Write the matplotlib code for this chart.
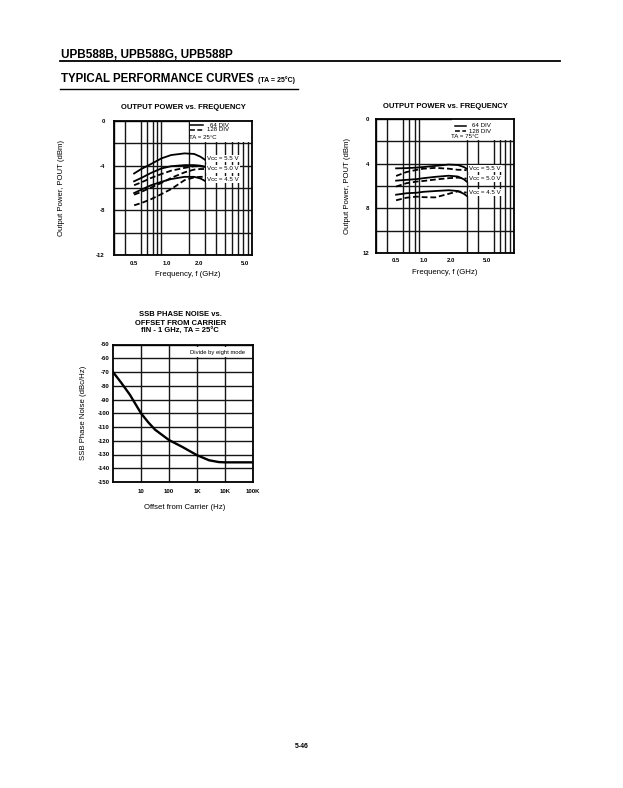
import matplotlib
matplotlib.use('Agg')
import matplotlib.pyplot as plt
from matplotlib.patches import Rectangle
from matplotlib.ticker import FixedLocator, NullFormatter, FixedFormatter

plt.rcParams['font.family'] = ['Liberation Sans', 'DejaVu Sans']
plt.rcParams['axes.unicode_minus'] = False

# ---------------- data ----------------
# Chart 1: output power vs frequency, TA = 25 C (dBm)
freq_a = [0.5, 0.6, 0.77, 1.0, 1.28, 1.8, 2.3, 2.7, 3.0]
a_64_55 = [-4.7, -4.3, -3.85, -3.35, -3.05, -2.9, -2.95, -3.2, -3.45]
a_64_50 = [-5.4, -5.1, -4.65, -4.25, -4.05, -3.95, -3.95, -4.0, -4.1]
a_64_45 = [-6.45, -6.15, -5.75, -5.45, -5.2, -5.0, -5.0, -5.15, -5.35]
a_128_55 = [-5.75, -5.5, -5.1, -4.75, -4.45, -4.2, -4.05, -4.05, -4.1]
a_128_50 = [-6.6, -6.35, -5.95, -5.55, -5.1, -4.6, -4.35, -4.3, -4.3]
a_128_45 = [-7.55, -7.35, -7.0, -6.55, -6.1, -5.3, -5.05, -5.0, -5.0]

# Chart 2: output power vs frequency, TA = 75 C
freq_b = [0.5, 0.65, 0.85, 1.0, 1.35, 1.9, 2.4, 2.8, 3.0]
b_64_55 = [4.42, 4.4, 4.35, 4.3, 4.2, 4.08, 4.12, 4.3, 4.45]
b_64_50 = [5.52, 5.45, 5.38, 5.3, 5.18, 5.08, 5.15, 5.4, 5.6]
b_64_45 = [6.78, 6.65, 6.6, 6.52, 6.45, 6.38, 6.45, 6.7, 6.88]
b_128_55 = [5.1, 4.75, 4.55, 4.45, 4.38, 4.45, 4.55, 4.55, 4.6]
b_128_50 = [6.05, 5.75, 5.6, 5.55, 5.42, 5.3, 5.25, 5.3, 5.35]
b_128_45 = [7.28, 7.05, 6.95, 7.0, 7.02, 6.7, 6.48, 6.55, 6.6]

# Chart 3: SSB phase noise vs offset
offset_hz = [1, 2, 4, 10, 18, 32, 100, 300, 1000, 2700, 6000, 10000, 100000]
noise_dbc = [-70, -78, -86.5, -100, -106.5, -112, -119.5, -124.5, -130.5, -134.2, -135.5, -135.7, -135.7]

freq_grid = [0.3, 0.4, 0.5, 0.6, 0.7, 0.8, 0.9, 1, 2, 3, 4, 5, 6, 7, 8, 9, 10]
xt_a_pos = [0.5, 1.15, 2.6, 8.4]
xt_b_pos = [0.5, 1.0, 2.0, 5.0]
xt_labels = ['0.5', '1.0', '2.0', '5.0']
yt_a = [0, -4, -8, -12]
yt_b = [0, 4, 8, 12]
off_ticks = [10, 100, 1000, 10000, 100000]
off_labels = ['10', '100', '1K', '10K', '100K']
noise_ticks = [-50, -60, -70, -80, -90, -100, -110, -120, -130, -140, -150]

# ---------------- figure ----------------
W, H = 623, 788
fig = plt.figure(figsize=(W / 100, H / 100), dpi=100)
fig.patch.set_facecolor('white')


def axes_px(l, t, r, b):
    return fig.add_axes([l / W, 1 - b / H, (r - l) / W, (b - t) / H])


def fig_text(x, y, s, **kw):
    fig.text(x / W, 1 - y / H, s, **kw)


# header
fig_text(61, 57.5, 'UPB588B, UPB588G, UPB588P', fontsize=8.5, fontweight='bold', va='baseline')
fig.add_artist(plt.Line2D([60 / W, 560 / W], [1 - 61 / H, 1 - 61 / H], color='black', lw=1.3))
fig_text(61, 82.5, 'TYPICAL PERFORMANCE CURVES', fontsize=8.3, fontweight='bold', va='baseline')
fig_text(258, 82.5, '(TA = 25°C)', fontsize=5, fontweight='bold', va='baseline')
fig.add_artist(plt.Line2D([60 / W, 298 / W], [1 - 89 / H, 1 - 89 / H], color='black', lw=1.0))
fig_text(302, 746, '5-46', fontsize=5, fontweight='bold', ha='center', va='center')

GRID_KW = dict(color='#151515', lw=1.0)
CURVE_LW = 1.3
DASH = (0, (3.2, 1.6))
TICK_FS = 4.3
LABEL_FS = 5.6
TITLE_FS = 5.5


def style_power_axes(ax, ylim, ymaj, yminor, xt_pos):
    ax.set_xscale('log')
    ax.set_xlim(0.3, 10)
    ax.set_ylim(*ylim)
    ax.xaxis.set_major_locator(FixedLocator(xt_pos))
    ax.xaxis.set_major_formatter(FixedFormatter(xt_labels))
    ax.xaxis.set_minor_locator(FixedLocator(freq_grid))
    ax.xaxis.set_minor_formatter(NullFormatter())
    ax.yaxis.set_major_locator(FixedLocator(ymaj))
    ax.yaxis.set_minor_locator(FixedLocator(yminor))
    ax.grid(True, which='minor', axis='x', **GRID_KW)
    ax.grid(True, which='both', axis='y', **GRID_KW)
    ax.tick_params(which='both', length=0, labelsize=TICK_FS)
    for lab in ax.get_xticklabels() + ax.get_yticklabels():
        lab.set_fontweight('bold')
    for s in ax.spines.values():
        s.set_linewidth(1.3)


def legend_block(ax, x0, x1, xt, y1, y2, y3, xta, ta_text):
    ax.plot([x0, x1], [y1, y1], transform=ax.transAxes, color='black', lw=1.1, zorder=4)
    ax.plot([x0, x1], [y2, y2], transform=ax.transAxes, color='black', lw=1.1, ls=DASH, zorder=4)
    ax.text(xt, y1, '64 DIV', transform=ax.transAxes, fontsize=4.4, ha='right', va='center', zorder=4)
    ax.text(xt, y2, '128 DIV', transform=ax.transAxes, fontsize=4.4, ha='right', va='center', zorder=4)
    ax.text(xta, y3, ta_text, transform=ax.transAxes, fontsize=4.4, ha='center', va='center', zorder=4)


def vcc_labels(ax, x, ys):
    for y, t in zip(ys, ['Vcc = 5.5 V', 'Vcc = 5.0 V', 'Vcc = 4.5 V']):
        ax.text(x, y, t, transform=ax.transAxes, fontsize=4.4, ha='center', va='center', zorder=5,
                bbox=dict(facecolor='white', edgecolor='none', pad=0.8))


# ---- chart 1 ----
ax1 = axes_px(114, 121, 252, 255)
style_power_axes(ax1, (-12, 0), yt_a, [-2, -6, -10], xt_a_pos)
for ys, ls in [(a_64_55, '-'), (a_64_50, '-'), (a_64_45, '-'),
               (a_128_55, DASH), (a_128_50, DASH), (a_128_45, DASH)]:
    ax1.plot(freq_a, ys, color='black', lw=CURVE_LW, ls=ls, zorder=3)
ax1.add_patch(Rectangle((2.08, -1.92), 10 - 2.08, 1.92, facecolor='white', edgecolor='none', zorder=2))
legend_block(ax1, 0.55, 0.645, 0.835, 0.97, 0.933, 0.88, 0.64, 'TA = 25°C')
vcc_labels(ax1, 0.79, [0.72, 0.642, 0.563])
ax1.tick_params(axis='y', pad=6.5)
ax1.tick_params(axis='x', pad=4.3)
ax1.set_title('OUTPUT POWER vs. FREQUENCY', fontsize=TITLE_FS, fontweight='bold', y=1.104, pad=0, va='center')
ax1.set_xlabel('Frequency, f (GHz)', fontsize=LABEL_FS, va='center')
ax1.xaxis.set_label_coords(0.536, -0.142)
ax1.set_ylabel('Output Power, POUT (dBm)', fontsize=LABEL_FS, va='center')
ax1.yaxis.set_label_coords(-0.377, 0.5)

# ---- chart 2 ----
ax2 = axes_px(376, 119, 514, 253)
style_power_axes(ax2, (12, 0), yt_b, [2, 6, 10], xt_b_pos)
for ys, ls in [(b_64_55, '-'), (b_64_50, '-'), (b_64_45, '-'),
               (b_128_55, DASH), (b_128_50, DASH), (b_128_45, DASH)]:
    ax2.plot(freq_b, ys, color='black', lw=CURVE_LW, ls=ls, zorder=3)
ax2.add_patch(Rectangle((2.08, 0), 10 - 2.08, 1.92, facecolor='white', edgecolor='none', zorder=2))
legend_block(ax2, 0.574, 0.654, 0.835, 0.95, 0.91, 0.866, 0.646, 'TA = 75°C')
vcc_labels(ax2, 0.79, [0.629, 0.556, 0.453])
ax2.tick_params(axis='y', pad=5)
ax2.tick_params(axis='x', pad=3.5)
ax2.set_title('OUTPUT POWER vs. FREQUENCY', fontsize=TITLE_FS, fontweight='bold', y=1.09, pad=0, va='center')
ax2.set_xlabel('Frequency, f (GHz)', fontsize=LABEL_FS, va='center')
ax2.xaxis.set_label_coords(0.50, -0.149)
ax2.set_ylabel('Output Power, POUT (dBm)', fontsize=LABEL_FS, va='center')
ax2.yaxis.set_label_coords(-0.203, 0.5)

# ---- chart 3 ----
ax3 = axes_px(113, 344.5, 253, 482)
ax3.set_xscale('log')
ax3.set_xlim(1, 100000)
ax3.set_ylim(-150, -50)
ax3.xaxis.set_major_locator(FixedLocator(off_ticks))
ax3.xaxis.set_major_formatter(FixedFormatter(off_labels))
ax3.xaxis.set_minor_locator(FixedLocator([]))
ax3.yaxis.set_major_locator(FixedLocator(noise_ticks))
ax3.grid(True, which='major', **GRID_KW)
ax3.tick_params(which='both', length=0, labelsize=TICK_FS)
ax3.tick_params(axis='y', pad=2.5)
ax3.tick_params(axis='x', pad=5)
for lab in ax3.get_xticklabels() + ax3.get_yticklabels():
    lab.set_fontweight('bold')
for s in ax3.spines.values():
    s.set_linewidth(1.3)
ax3.plot(offset_hz, noise_dbc, color='black', lw=1.7, zorder=3)
ax3.text(0.75, 0.945, 'Divide by eight mode', transform=ax3.transAxes, fontsize=4.2,
         ha='center', va='center', zorder=5, bbox=dict(facecolor='white', edgecolor='none', pad=1.5))
ax3.set_title('SSB PHASE NOISE vs.\nOFFSET FROM CARRIER\nfIN - 1 GHz, TA = 25°C', fontsize=TITLE_FS,
              fontweight='bold', y=1.156, x=0.48, pad=0, va='center', linespacing=1.25)
ax3.set_xlabel('Offset from Carrier (Hz)', fontsize=LABEL_FS, va='center')
ax3.xaxis.set_label_coords(0.514, -0.182)
ax3.set_ylabel('SSB Phase Noise (dBc/Hz)', fontsize=LABEL_FS, va='center')
ax3.yaxis.set_label_coords(-0.214, 0.5)

fig.savefig('out.png', dpi=100, facecolor='white')
